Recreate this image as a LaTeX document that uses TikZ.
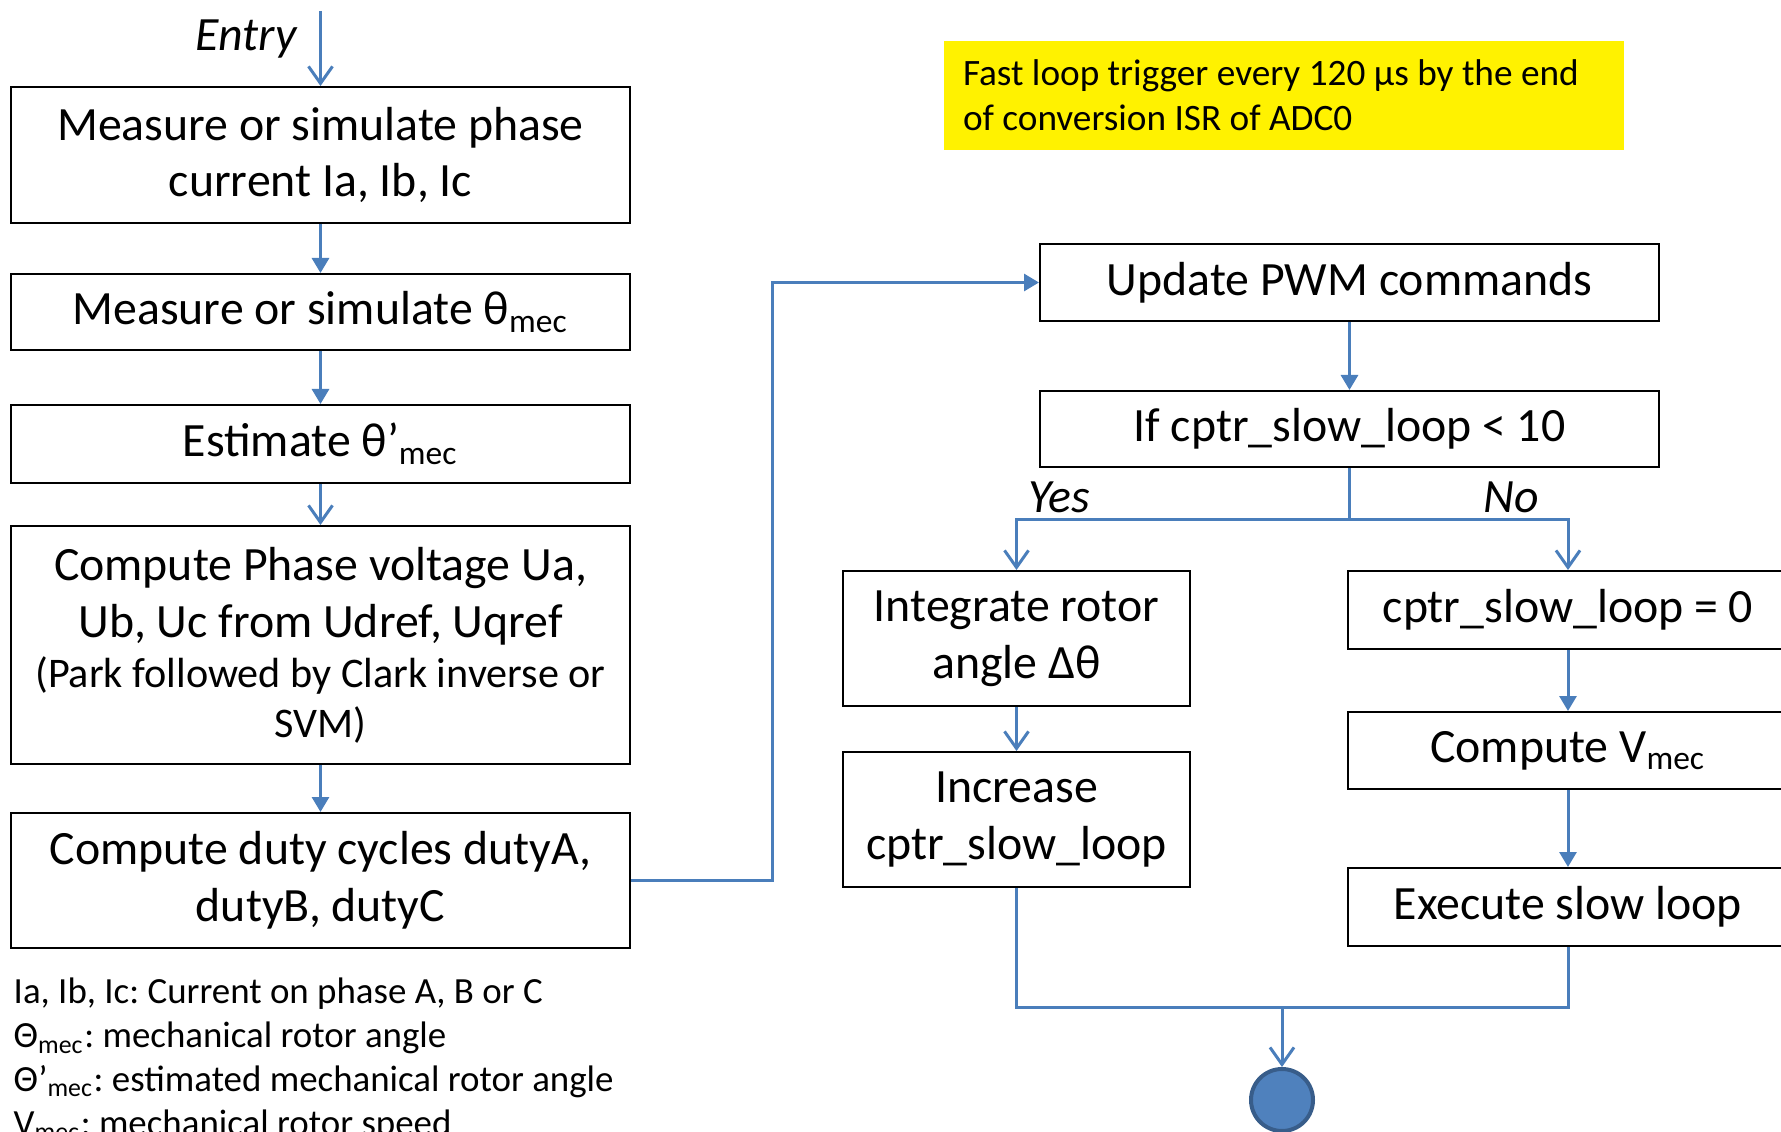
\documentclass[tikz,border=0pt]{standalone}
\usepackage{fontspec}
\setmainfont{Carlito}
\usetikzlibrary{positioning,arrows.meta}
\definecolor{flowblue}{HTML}{4A7EBB}
\definecolor{endfill}{HTML}{4F81BD}
\definecolor{enddraw}{HTML}{385D8A}
\frenchspacing
\begin{document}
\begin{tikzpicture}[box/.style = {draw, line width=0.02cm, minimum width=6.19cm, text width=6.1cm, inner xsep=0.04cm, align=center, font=\fontsize{13.6}{16.2}\selectfont, execute at begin node={\spaceskip=0.226em\relax}},
                    tag/.style = {font=\fontsize{13.6}{16.2}\selectfont\itshape},
                    line/.style = {draw=flowblue, line width=0.03cm},
                    flow/.style = {line, -{Triangle[length=0.15cm,width=0.17cm]}},
                    barbflow/.style = {line, -{Straight Barb[length=0.17cm,width=0.24cm]}}]
            \useasboundingbox (0,0) rectangle (17.81,-11.32);
            \clip (0,0) rectangle (17.81,-11.32);
            % fast loop, left column
            \node[tag] (entry) at (2.46,-0.39) {Entry};
            \coordinate (0) at (3.205,-0.11);
            \node[box, minimum height=1.36cm] (1) at (3.205,-1.55) {Measure or simulate phase\\ current Ia, Ib, Ic};
            \node[box, minimum height=0.76cm] (2) [below=0.49cm of 1] {Measure or simulate θ\textsubscript{mec}};
            \node[box, minimum height=0.78cm] (3) [below=0.53cm of 2] {Estimate θ’\textsubscript{mec}};
            \node[box, minimum height=2.38cm] (4) [below=0.41cm of 3] {Compute Phase voltage Ua,\\ Ub, Uc from Udref, Uqref\par{\fontsize{12}{14.2}\selectfont\spaceskip=0.226em\relax (Park followed by Clark inverse or\\ SVM)\par}};
            \node[box, minimum height=1.35cm] (5) [below=0.47cm of 4] {Compute duty cycles dutyA,\\ dutyB, dutyC};
            % right part
            \node[fill=yellow, minimum width=6.8cm, minimum height=1.09cm, text width=6.42cm, inner xsep=0.19cm, align=left, font=\fontsize{10.6}{12.8}\selectfont, execute at begin node={\spaceskip=0.226em\relax}] (note) at (12.84,-0.955) {Fast loop trigger every 120 µs by the end\\ of conversion ISR of ADC0};
            \node[box] (6) at (13.495,-2.825) [minimum height=0.77cm] {Update PWM commands};
            \node[box, minimum height=0.76cm] (7) [below=0.68cm of 6] {If cptr\_slow\_loop < 10};
            \node[box, minimum width=3.47cm, text width=3.3cm, minimum height=1.35cm] (8) at (10.165,-6.385) {Integrate rotor\\ angle Δθ};
            \node[box, minimum width=3.47cm, text width=3.3cm, minimum height=1.35cm] (9) [below=0.44cm of 8] {Increase\\ cptr\_slow\_loop};
            \node[box, minimum width=4.4cm, text width=4.2cm, minimum height=0.78cm] (10) at (15.68,-6.10) {cptr\_slow\_loop = 0};
            \node[box, minimum width=4.4cm, text width=4.2cm, minimum height=0.77cm] (11) [below=0.61cm of 10] {Compute V\textsubscript{mec}};
            \node[box, minimum width=4.4cm, text width=4.2cm, minimum height=0.78cm] (12) [below=0.77cm of 11] {Execute slow loop};
            \node[circle, fill=endfill, draw=enddraw, line width=0.04cm, minimum size=0.62cm] (13) at (12.82,-11.0) {};
            \node[tag] (yes) at (10.59,-4.97) {Yes};
            \node[tag] (no) at (15.11,-4.97) {No};
            \node[anchor=north west, inner sep=0pt, text width=7cm, align=left, font=\fontsize{10.5}{12.5}\selectfont, execute at begin node={\spaceskip=0.226em\relax}] (legend) at (0.13,-9.77) {Ia, Ib, Ic: Current on phase A, B or C\\ Θ\textsubscript{mec}: mechanical rotor angle\\ Θ’\textsubscript{mec}: estimated mechanical rotor angle\\ V\textsubscript{mec}: mechanical rotor speed};
            % connectors
            \draw[barbflow] (0) -- (1);
            \draw[flow] (1) -- (2);
            \draw[flow] (2) -- (3);
            \draw[barbflow] (3) -- (4);
            \draw[flow] (4) -- (5);
            \draw[flow] (5.east) -- ++(1.41,0) |- (6.west);
            \draw[flow] (6) -- (7);
            \draw[line] (7.south) -- ++(0,-0.52) coordinate (split);
            \draw[barbflow] (split) -| (8.north);
            \draw[barbflow] (split) -| (10.north);
            \draw[barbflow] (8) -- (9);
            \draw[flow] (10) -- (11);
            \draw[flow] (11) -- (12);
            \coordinate (join) at (12.82,-10.07);
            \draw[line] (9.south) |- (join) -| (12.south);
            \draw[barbflow] (join) -- (13);
        \end{tikzpicture}
\end{document}
